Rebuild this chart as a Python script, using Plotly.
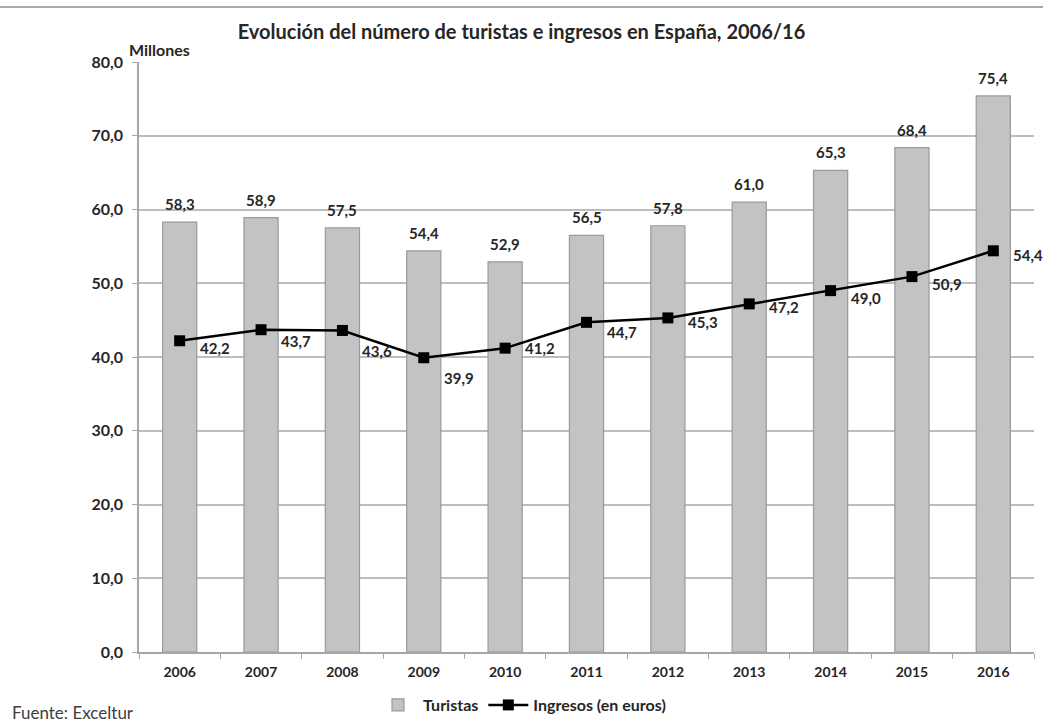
import plotly.graph_objects as go

years = ["2006", "2007", "2008", "2009", "2010", "2011", "2012", "2013", "2014", "2015", "2016"]
turistas = [58.3, 58.9, 57.5, 54.4, 52.9, 56.5, 57.8, 61.0, 65.3, 68.4, 75.4]
ingresos = [42.2, 43.7, 43.6, 39.9, 41.2, 44.7, 45.3, 47.2, 49.0, 50.9, 54.4]
ing_label_dy = [-7, -11, -21, -20, 0, -10, -4, -3, -7, -7, -4]

FONT = "Lato"
TXT = "#262626"
fig = go.Figure()
fig.add_trace(go.Bar(
    x=years, y=turistas, name="<b>Turistas</b>",
    marker=dict(color="#c3c3c3", line=dict(color="#9a9a9a", width=1.2)),
))
fig.add_trace(go.Scatter(
    x=years, y=ingresos, name="<b>Ingresos (en euros)</b>", mode="lines+markers",
    line=dict(color="#000000", width=2.5),
    marker=dict(symbol="square", size=11, color="#000000"),
))

def fmt(v):
    return f"{v:.1f}".replace(".", ",")

for i, v in enumerate(turistas):
    fig.add_annotation(x=i, y=v, text=f"<b>{fmt(v)}</b>", showarrow=False,
                       yanchor="bottom", yshift=7, font=dict(family=FONT, size=15, color=TXT))
for i, (v, dy) in enumerate(zip(ingresos, ing_label_dy)):
    fig.add_annotation(x=i, y=v, text=f"<b>{fmt(v)}</b>", showarrow=False,
                       xanchor="center", yanchor="middle", xshift=35, yshift=dy,
                       font=dict(family=FONT, size=15, color=TXT))

fig.add_annotation(xref="paper", yref="paper", x=-12/895, y=1.0, yshift=1, text="<b>Millones</b>",
                   showarrow=False, xanchor="left", yanchor="bottom",
                   font=dict(family=FONT, size=16, color=TXT))
fig.add_annotation(xref="paper", yref="paper", x=(10-139)/895, y=(652-712)/590, text="Fuente: Exceltur",
                   showarrow=False, xanchor="left", yanchor="middle",
                   font=dict(family=FONT, size=17, color="#404040"))
fig.add_shape(type="line", xref="paper", yref="paper", x0=-139/895, x1=(1043-139)/895,
              y0=(652-7)/590, y1=(652-7)/590, line=dict(color="#555555", width=1.2))

fig.update_layout(
    width=1043, height=722,
    margin=dict(l=139, r=9, t=62, b=70, autoexpand=False),
    paper_bgcolor="white", plot_bgcolor="white",
    separators=",.",
    bargap=0.58,
    title=dict(text="<b>Evolución del número de turistas e ingresos en España, 2006/16</b>",
               x=0.5, xref="container", xanchor="center", y=1 - 32/722, yanchor="middle",
               font=dict(family=FONT, size=20, color=TXT)),
    font=dict(family=FONT, color=TXT),
    showlegend=True,
    legend=dict(orientation="h", x=(522-139)/895, xanchor="center",
                y=(652-705)/590, yanchor="middle",
                font=dict(family=FONT, size=16, color=TXT), itemwidth=40,
                traceorder="normal"),
    xaxis=dict(type="category", range=[-0.5, len(years) - 0.5], showgrid=False, showline=True,
               linecolor="#a6a6a6", linewidth=1.5,
               ticks="outside", tickson="boundaries", ticklen=5, tickcolor="#a6a6a6",
               tickangle=0, ticklabelstandoff=6,
               tickfont=dict(family=FONT, size=14, color=TXT), tickprefix="<b>", ticksuffix="</b>"),
    yaxis=dict(range=[0, 80], dtick=10, tickformat=".1f", showgrid=True, gridcolor="#bdbdbd",
               gridwidth=1.5, showline=True, linecolor="#a6a6a6", linewidth=1.5,
               ticks="outside", ticklen=5, tickcolor="#a6a6a6", zeroline=False, ticklabelstandoff=6,
               tickfont=dict(family=FONT, size=16, color=TXT), tickprefix="<b>", ticksuffix="</b>"),
)
fig.write_html("out.html", config={"displayModeBar": False},
               post_script="document.body.style.margin='0px';")
